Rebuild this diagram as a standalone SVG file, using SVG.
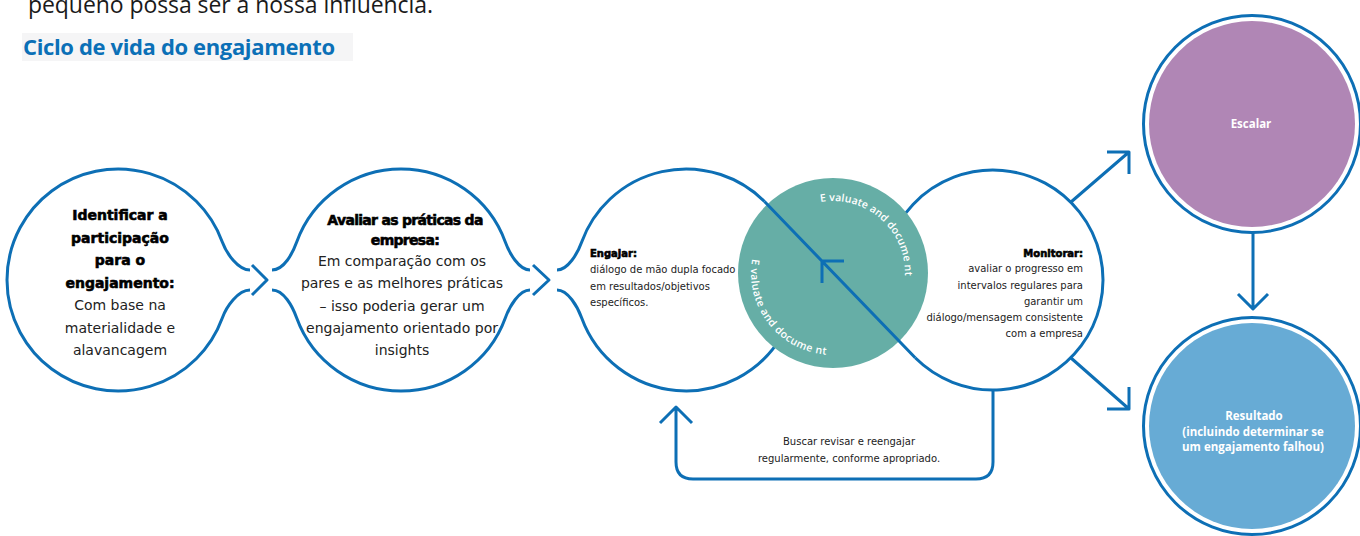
<svg xmlns="http://www.w3.org/2000/svg" width="1360" height="536" viewBox="0 0 1360 536">
<style>
.ln{fill:none;stroke:#0D6FB5;stroke-width:3;stroke-linejoin:round}
.tx{font-family:"DejaVu Sans",Verdana,sans-serif;fill:#222}
.hd{font-family:"DejaVu Sans",Verdana,sans-serif;font-weight:bold;fill:#000;stroke:#000;stroke-width:0.6}
.sm{font-size:10px}
.big{font-size:14px}
.wt{font-family:"Open Sans","Noto Sans",sans-serif;font-weight:bold;fill:#fff;font-size:11.5px;text-anchor:middle}
.arc{font-family:"Open Sans","Noto Sans",sans-serif;font-weight:600;fill:#fff;font-size:10.5px}
</style>
<defs>
<path id="arcTop" d="M 820.5 202.1 A 72 72 0 0 1 904.7 279.3"/>
<path id="arcBot" d="M 752.2 258.8 A 82 82 0 0 0 840.1 354.7"/>
</defs>
<rect width="1360" height="536" fill="#fff"/>
<text x="28" y="13" font-family="'Open Sans','Noto Sans',sans-serif" font-size="23" fill="#1a1a1a" textLength="405">pequeno possa ser a nossa influência.</text>
<rect x="22" y="33" width="331" height="28" fill="#F5F5F6"/>
<text x="23" y="55" font-family="'Open Sans','Noto Sans',sans-serif" font-size="22" font-weight="bold" fill="#0B70B7" textLength="312">Ciclo de vida do engajamento</text>

<g id="connectors">
<path class="ln" d="M 252 265 L 267 280 L 252 295"/>
<path class="ln" d="M 533 265 L 549 280 L 533 295"/>
<path class="ln" d="M 1071 202 L 1129 152 M 1107 152 H 1129 V 174"/>
<path class="ln" d="M 1071 358 L 1129 409 M 1107 409 H 1129 V 387"/>
<path class="ln" d="M 1253 233 V 309 M 1238 294 L 1253 309 L 1268 294"/>
<path class="ln" d="M 993 390 V 462 Q 993 479 976 479 H 693 Q 676 479 676 462 V 407 M 660 423 L 676 407 L 692 423"/>
<text class="tx sm" x="849" y="445" text-anchor="middle">Buscar revisar e reengajar</text>
<text class="tx sm" x="849" y="461.5" text-anchor="middle">regularmente, conforme apropriado.</text>
</g>

<g id="node-identificar">
<path class="ln" d="M 250 270 C 238 270 226.4 253.3 222.3 242 A 111 111 0 1 0 222.3 318 C 226.4 306.7 238 290 250 290"/>
<g text-anchor="middle">
<text class="hd big" x="120" y="220">Identificar a</text>
<text class="hd big" x="120" y="242.5">participação</text>
<text class="hd big" x="120" y="265">para o</text>
<text class="hd big" x="120" y="287.5">engajamento:</text>
<text class="tx big" x="120" y="310">Com base na</text>
<text class="tx big" x="120" y="332.5">materialidade e</text>
<text class="tx big" x="120" y="355">alavancagem</text>
</g>
</g>

<g id="node-avaliar">
<path class="ln" d="M 272 270 C 284 270 292.6 253.3 296.7 242 A 111 111 0 0 1 505.3 242 C 509.4 253.3 519 270 530 270 M 530 290 C 519 290 509.4 306.7 505.3 318 A 111 111 0 0 1 296.7 318 C 292.6 306.7 284 290 272 290"/>
<g text-anchor="middle">
<text class="hd big" x="405" y="225" letter-spacing="-0.7">Avaliar as práticas da</text>
<text class="hd big" x="405" y="245" letter-spacing="-0.7">empresa:</text>
<text class="tx big" x="402" y="266">Em comparação com os</text>
<text class="tx big" x="402" y="288">pares e as melhores práticas</text>
<text class="tx big" x="402" y="310.5">– isso poderia gerar um</text>
<text class="tx big" x="402" y="333">engajamento orientado por</text>
<text class="tx big" x="402" y="355">insights</text>
</g>
</g>

<g id="node-engajar">
<path class="ln" d="M 557 270 C 568 270 577.6 253.3 581.7 242 A 111 111 0 0 1 764.5 201.5 M 557 290 C 568 290 577.6 306.7 581.7 318 A 111 111 0 0 0 782 335.5"/>
<text class="hd sm" x="590" y="257" font-size="10.5" stroke-width="0.35">Engajar:</text>
<text class="tx sm" x="590" y="273">diálogo de mão dupla focado</text>
<text class="tx sm" x="590" y="290">em resultados/objetivos</text>
<text class="tx sm" x="590" y="306">específicos.</text>
</g>

<g id="node-monitorar">
<path class="ln" d="M 889.6 242.4 A 110 110 0 1 1 915.2 357.8"/>
<g text-anchor="end">
<text class="hd sm" x="1083" y="257" font-size="10.5" stroke-width="0.35">Monitorar:</text>
<text class="tx sm" x="1083" y="272">avaliar o progresso em</text>
<text class="tx sm" x="1083" y="289">intervalos regulares para</text>
<text class="tx sm" x="1083" y="305">garantir um</text>
<text class="tx sm" x="1083" y="321">diálogo/mensagem consistente</text>
<text class="tx sm" x="1083" y="337">com a empresa</text>
</g>
</g>

<g id="node-evaluate">
<circle cx="833" cy="273" r="95" fill="#66AEA6"/>
<text class="arc"><textPath href="#arcTop" textLength="128">E valuate and docume nt</textPath></text>
<text class="arc"><textPath href="#arcBot" textLength="136">E valuate and docume nt</textPath></text>
<path class="ln" d="M 764.5 201.5 L 915.2 357.8 M 844 261 L 822 261 L 822 283"/>
</g>

<g id="node-escalar">
<circle cx="1252" cy="124" r="108.5" fill="#fff" stroke="#0D6FB5" stroke-width="3"/>
<circle cx="1252" cy="124" r="103" fill="#B086B5"/>
<text class="wt" x="1251" y="128">Escalar</text>
</g>

<g id="node-resultado">
<circle cx="1252" cy="426" r="108.5" fill="#fff" stroke="#0D6FB5" stroke-width="3"/>
<circle cx="1252" cy="426" r="103" fill="#67ABD5"/>
<text class="wt" x="1254" y="420">Resultado</text>
<text class="wt" x="1253" y="436">(incluindo determinar se</text>
<text class="wt" x="1253" y="451">um engajamento falhou)</text>
</g>
</svg>
